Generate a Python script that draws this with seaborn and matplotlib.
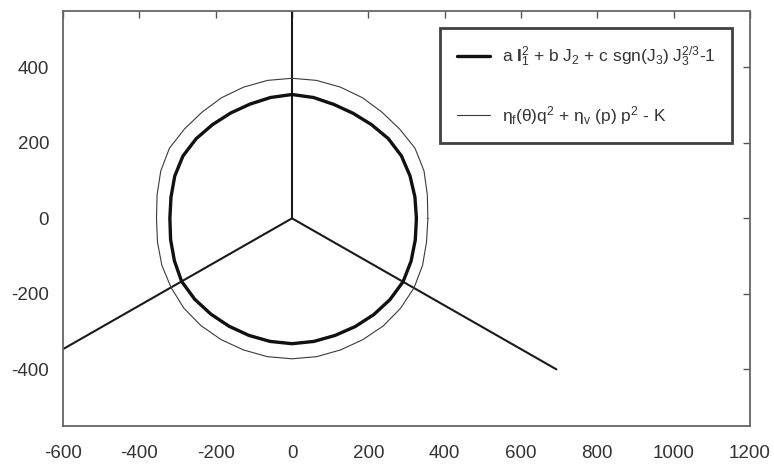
import numpy as np
import pandas as pd
import matplotlib
matplotlib.use("Agg")
import matplotlib.pyplot as plt
import seaborn as sns

# polar samples of the two yield curves (deviatoric plane)
angles_deg = [0, 10, 20, 30, 40, 50, 60, 70, 80, 90, 100, 110,
              120, 130, 140, 150, 160, 170, 180, 190, 200, 210, 220, 230,
              240, 250, 260, 270, 280, 290, 300, 310, 320, 330, 340, 350]
r_thick = [326, 327, 329, 331, 329, 324, 321, 321, 325, 328, 325, 322,
           322, 324, 328, 330, 327, 322, 320, 323, 328, 334, 333, 331,
           330, 330, 331, 332, 331, 330, 331, 333, 335, 336, 332, 328]
r_thin = [356, 360, 368, 372, 368, 367, 369, 370, 371, 371, 371, 370,
          369, 367, 368, 371, 366, 359, 355, 358, 363, 366, 370, 371,
          371, 371, 372, 372, 372, 371, 371, 372, 371, 369, 364, 358]

# principal stress axes projected on the plane
axis_angles = [90, 210, 330]
axis_length = 800

label_thick = r'a $\mathbf{I}_1^2$ + b J$_2$ + c sgn(J$_3$) J$_3^{2/3}$-1'
label_thin = r'$\eta_\mathrm{f}(\theta)$q$^2$ + $\eta_\mathrm{v}$ (p) p$^2$ - K'

x_ticks = [-600, -400, -200, 0, 200, 400, 600, 800, 1000, 1200]
y_ticks = [-400, -200, 0, 200, 400]

sns.set_style("white")
plt.rcParams['font.family'] = ['Liberation Sans', 'DejaVu Sans']
plt.rcParams['axes.unicode_minus'] = False
plt.rcParams['mathtext.fontset'] = 'custom'
plt.rcParams['mathtext.rm'] = 'Liberation Sans'
plt.rcParams['mathtext.it'] = 'Liberation Sans'
plt.rcParams['mathtext.bf'] = 'Liberation Sans:bold'


def closed_curve(radii):
    t = np.deg2rad(angles_deg + [angles_deg[0]])
    r = np.array(radii + [radii[0]])
    return pd.DataFrame({"x": r * np.cos(t), "y": r * np.sin(t)})


fig = plt.figure(figsize=(7.74, 4.67), dpi=100)
ax = fig.add_axes([0.0814, 0.0878, 0.8876, 0.8893])

for a in axis_angles:
    t = np.deg2rad(a)
    spoke = pd.DataFrame({"x": [0, axis_length * np.cos(t)],
                          "y": [0, axis_length * np.sin(t)]})
    sns.lineplot(data=spoke, x="x", y="y", sort=False, estimator=None,
                 color="#1a1a1a", linewidth=1.5, ax=ax, legend=False)

sns.lineplot(data=closed_curve(r_thick), x="x", y="y", sort=False, estimator=None,
             color="#111111", linewidth=2.4, ax=ax, label=label_thick)
sns.lineplot(data=closed_curve(r_thin), x="x", y="y", sort=False, estimator=None,
             color="#3a3a3a", linewidth=0.8, ax=ax, label=label_thin)

ax.set_xlim(-600, 1200)
ax.set_ylim(-550, 550)
ax.set_xticks(x_ticks)
ax.set_yticks(y_ticks)
ax.set_xlabel("")
ax.set_ylabel("")
ax.tick_params(direction="in", length=5, width=1, color="#555555",
               labelsize=13.5, labelcolor="#333333", top=True, right=True, pad=10)
ax.tick_params(axis="x", pad=14)
for s in ax.spines.values():
    s.set_color("#666666")
    s.set_linewidth(1.3)

leg = ax.legend(loc="upper right", bbox_to_anchor=(0.974, 0.958), fontsize=12.5,
                frameon=True, fancybox=False, handlelength=1.9, handletextpad=0.7,
                labelspacing=2.0, borderpad=0.95, borderaxespad=0)
leg.get_frame().set_edgecolor("#111111")
leg.get_frame().set_linewidth(2)
for t in leg.get_texts():
    t.set_color("#333333")

plt.savefig("out.png", dpi=100)
